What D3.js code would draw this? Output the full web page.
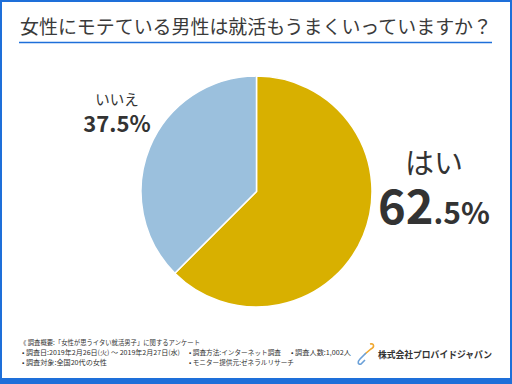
<!DOCTYPE html>
<html>
<head>
<meta charset="utf-8">
<script src="https://cdn.jsdelivr.net/npm/d3@7"></script>
<style>
html, body { margin: 0; padding: 0; background: #fff; }
svg { display: block; font-family: "Noto Sans CJK JP", "Noto Sans", sans-serif; }
</style>
</head>
<body>
<div id="chart"></div>
<script>
const title = "女性にモテている男性は就活もうまくいっていますか？";
const categories = ["はい", "いいえ"];
const values = [62.5, 37.5];
const colors = ["#d8b000", "#9bc0dd"];
const notes = [
  "《 調査概要:「女性が思うイタい就活男子」に関するアンケート",
  "• 調査日:2019年2月26日(火) ～ 2019年2月27日(水)",
  "• 調査対象:全国20代の女性",
  "• 調査方法:インターネット調査",
  "• モニター提供元:ゼネラルリサーチ",
  "• 調査人数:1,002人"
];
const company = "株式会社プロバイドジャパン";

const width = 512, height = 384;
const cx = 256.5, cy = 191.5, radius = 115.5;

d3.select("#chart").html(null);
const svg = d3.select("#chart").append("svg")
  .attr("width", width)
  .attr("height", height);

// frame
svg.append("rect").attr("x", 0).attr("y", 0).attr("width", width).attr("height", height).attr("fill", "#1e6fd9");
svg.append("rect").attr("x", 2).attr("y", 2).attr("width", width - 4).attr("height", height - 8).attr("fill", "#fff");

// title
svg.append("text")
  .attr("x", 20).attr("y", 34)
  .attr("font-size", 19)
  .attr("fill", "#3a3a3a")
  .attr("textLength", 472)
  .attr("lengthAdjust", "spacingAndGlyphs")
  .text(title);
svg.append("line")
  .attr("x1", 19).attr("x2", 492)
  .attr("y1", 42.5).attr("y2", 42.5)
  .attr("stroke", "#1e6fd9").attr("stroke-width", 1.5);

// pie
const pie = d3.pie().sort(null).value(d => d)(values);
const arc = d3.arc().innerRadius(0).outerRadius(radius);
svg.append("g")
  .attr("transform", `translate(${cx},${cy})`)
  .selectAll("path")
  .data(pie)
  .join("path")
    .attr("d", arc)
    .attr("fill", (d, i) => colors[i])
    .attr("stroke", "#fff")
    .attr("stroke-width", 1.5);

// labels
const fmt = d3.format(".1f");
const yes = svg.append("g").attr("fill", "#333");
yes.append("text")
  .attr("x", 434).attr("y", 174)
  .attr("text-anchor", "middle")
  .attr("font-size", 29)
  .text(categories[0]);
const yesParts = fmt(values[0]).split(".");
const yesVal = yes.append("text")
  .attr("x", 434).attr("y", 224)
  .attr("text-anchor", "middle")
  .attr("font-weight", "bold");
yesVal.append("tspan").attr("font-size", 47).text(yesParts[0]);
yesVal.append("tspan").attr("font-size", 30).text("." + yesParts[1] + "%");

const no = svg.append("g").attr("fill", "#333");
no.append("text")
  .attr("x", 117).attr("y", 105)
  .attr("text-anchor", "middle")
  .attr("font-size", 14.5)
  .text(categories[1]);
no.append("text")
  .attr("x", 117).attr("y", 132)
  .attr("text-anchor", "middle")
  .attr("font-size", 22)
  .attr("font-weight", "bold")
  .text(fmt(values[1]) + "%");

// footer notes
const noteX = [20, 22, 22, 189, 189, 291];
const noteY = [345, 355, 365, 355, 365, 355];
const noteW = [180, 158, 85, 92, 105, 60];
svg.append("g")
  .attr("font-size", 6.5)
  .attr("fill", "#333")
  .selectAll("text")
  .data(notes)
  .join("text")
    .attr("x", (d, i) => noteX[i])
    .attr("y", (d, i) => noteY[i])
    .attr("textLength", (d, i) => noteW[i])
    .attr("lengthAdjust", "spacingAndGlyphs")
    .text(d => d);

// logo mark
const logo = svg.append("g").attr("transform", "translate(356,343)").attr("fill", "none").attr("stroke-width", 1.6);
logo.append("path").attr("d", "M14,1 C18,0 19,4 15,6 L9,11").attr("stroke", "#f0a830");
logo.append("path").attr("d", "M10,10 L4,16 C1,19 2,22 5,21 L9,17").attr("stroke", "#6aa0d8");

svg.append("text")
  .attr("x", 378).attr("y", 358)
  .attr("font-size", 9.5)
  .attr("font-weight", "bold")
  .attr("fill", "#333")
  .attr("textLength", 114)
  .attr("lengthAdjust", "spacingAndGlyphs")
  .text(company);
</script>
</body>
</html>
